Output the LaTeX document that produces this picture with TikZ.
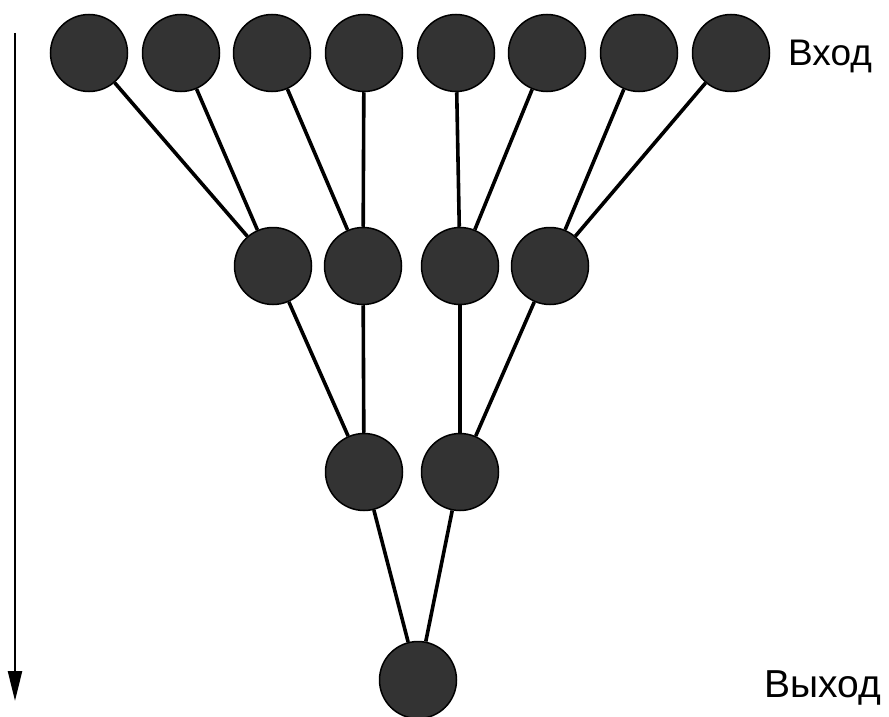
\documentclass[tikz,border=0pt]{standalone}
\usepackage{fontspec}
\setmainfont{Liberation Sans}
\usetikzlibrary{arrows.meta}
\begin{document}
\begin{tikzpicture}[x=1pt,y=-1pt,
  neuron/.style={circle,draw=black,line width=1.5pt,fill=black!80,minimum size=77pt,inner sep=0pt},
  link/.style={line width=3.6pt,black},
  lbl/.style={inner sep=0pt}]
\useasboundingbox (0,0) rectangle (889,717);
% input layer
\foreach \i/\x in {1/89,2/181,3/272,4/364,5/456,6/547,7/639,8/731}
  \node[neuron] (a\i) at (\x,53) {};
% second layer
\foreach \i/\x in {1/273,2/363,3/460,4/550}
  \node[neuron] (b\i) at (\x,266) {};
% third layer
\node[neuron] (c1) at (364,472) {};
\node[neuron] (c2) at (460,472) {};
% output
\node[neuron] (d1) at (418,680) {};
% connections
\draw[link] (a1) -- (b1);
\draw[link] (a2) -- (b1);
\draw[link] (a3) -- (b2);
\draw[link] (a4) -- (b2);
\draw[link] (a5) -- (b3);
\draw[link] (a6) -- (b3);
\draw[link] (a7) -- (b4);
\draw[link] (a8) -- (b4);
\draw[link] (b1) -- (c1);
\draw[link] (b2) -- (c1);
\draw[link] (b3) -- (c2);
\draw[link] (b4) -- (c2);
\draw[link] (c1) -- (d1);
\draw[link] (c2) -- (d1);
% labels
\node[lbl,anchor=west,font=\fontsize{37}{40}\selectfont] (in) at (788,56) {Вход};
\node[lbl,anchor=west,font=\fontsize{39}{42}\selectfont] (out) at (764,688) {Выход};
% direction arrow
\coordinate (s) at (15,33);
\coordinate (e) at (15,701);
\draw[line width=2.4pt,-{Triangle[length=30pt,width=14pt]}] (s) -- (e);
\end{tikzpicture}
\end{document}
